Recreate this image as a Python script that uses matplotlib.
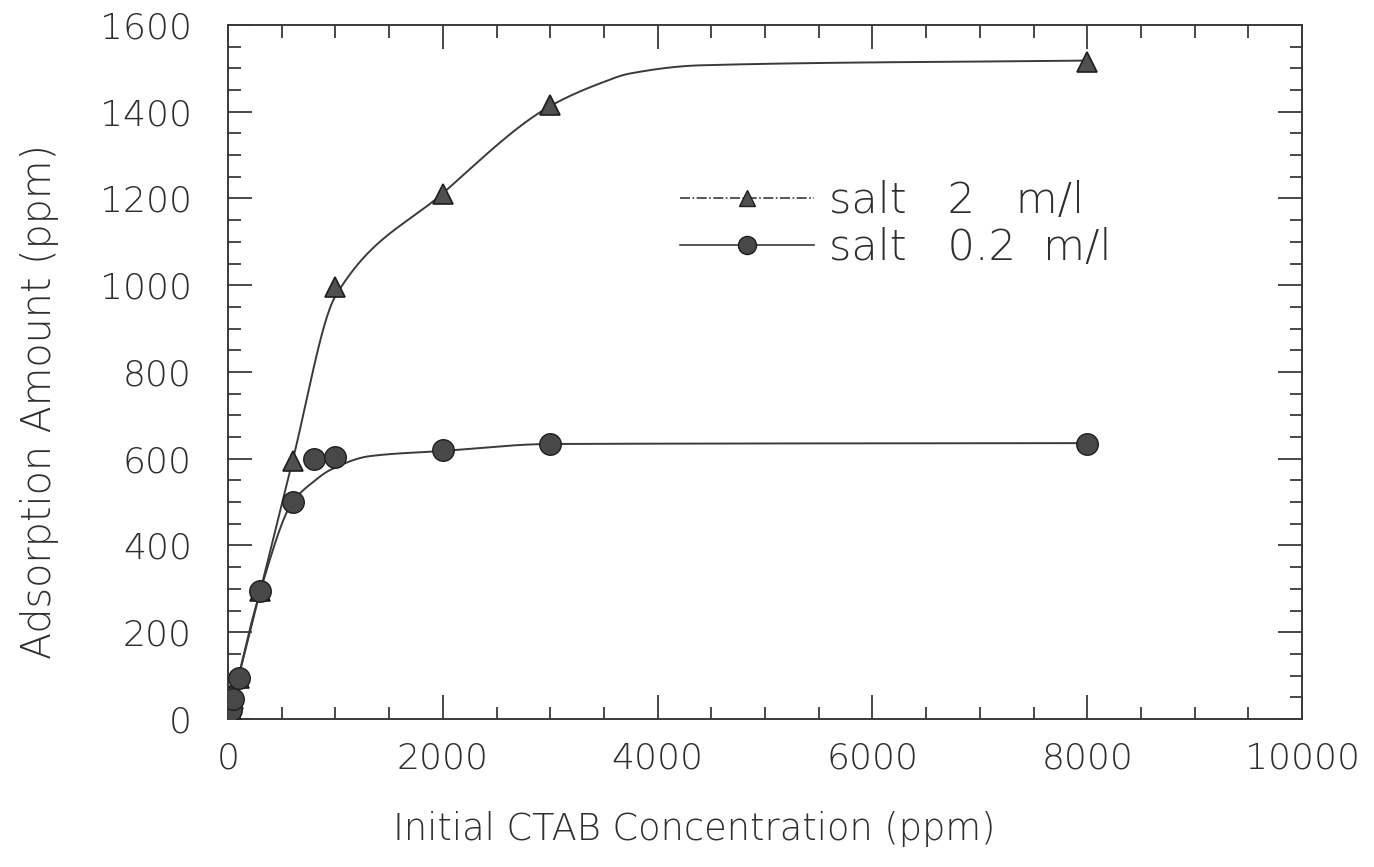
import numpy as np
import matplotlib
matplotlib.use("Agg")
import matplotlib.pyplot as plt
from matplotlib.ticker import MultipleLocator
from matplotlib.lines import Line2D

# Measured adsorption data
conc_salt2 = [10, 25, 50, 100, 300, 600, 1000, 2000, 3000, 8000]
ads_salt2 = [8, 20, 45, 95, 295, 595, 995, 1210, 1415, 1515]

conc_salt02 = [10, 25, 50, 100, 300, 600, 800, 1000, 2000, 3000, 8000]
ads_salt02 = [8, 20, 45, 95, 295, 500, 600, 605, 620, 635, 635]

# Hand-fitted trend curves (knots of the smooth fit lines)
fit2_x = [0, 300, 600, 1000, 2000, 3000, 3460, 3740, 4400, 8000]
fit2_y = [0, 295, 595, 975, 1212, 1413, 1465, 1488, 1507, 1518]

fit02_x = [0, 300, 600, 800, 950, 1320, 2000, 3000, 8000]
fit02_y = [0, 295, 500, 548, 574, 606, 618, 634, 636]

x_ticks = [0, 2000, 4000, 6000, 8000, 10000]
y_ticks = [0, 200, 400, 600, 800, 1000, 1200, 1400, 1600]


def pchip(xk, yk, xs):
    """Monotone piecewise cubic Hermite interpolation (Fritsch-Carlson)."""
    xk = np.asarray(xk, float)
    yk = np.asarray(yk, float)
    h = np.diff(xk)
    d = np.diff(yk) / h
    m = np.zeros_like(xk)
    for i in range(1, len(xk) - 1):
        if d[i - 1] * d[i] > 0:
            w1 = 2 * h[i] + h[i - 1]
            w2 = h[i] + 2 * h[i - 1]
            m[i] = (w1 + w2) / (w1 / d[i - 1] + w2 / d[i])
    m[0] = d[0]
    m[-1] = d[-1]
    idx = np.clip(np.searchsorted(xk, xs) - 1, 0, len(h) - 1)
    t = (xs - xk[idx]) / h[idx]
    h00 = 2 * t**3 - 3 * t**2 + 1
    h10 = t**3 - 2 * t**2 + t
    h01 = -2 * t**3 + 3 * t**2
    h11 = t**3 - t**2
    return (h00 * yk[idx] + h10 * h[idx] * m[idx]
            + h01 * yk[idx + 1] + h11 * h[idx] * m[idx + 1])


plt.rcParams['font.family'] = ['DejaVu Sans']
plt.rcParams['font.weight'] = 200
plt.rcParams['axes.labelweight'] = 200
ink = '#3a3a3a'
txt = '#2e2e2e'
fs = 25

fig = plt.figure(figsize=(13.74, 8.67), dpi=100)
ax = fig.add_axes([0.166, 0.1707, 0.7816, 0.8005])

xs2 = np.linspace(fit2_x[0], fit2_x[-1], 1000)
xs02 = np.linspace(fit02_x[0], fit02_x[-1], 1000)
ax.plot(xs2, pchip(fit2_x, fit2_y, xs2), color=ink, lw=1.4, zorder=2)
ax.plot(xs02, pchip(fit02_x, fit02_y, xs02), color=ink, lw=1.4, zorder=2)

ax.plot(conc_salt2, ads_salt2, linestyle='none', marker='^', ms=15,
        mfc='#505050', mec='#1e1e1e', mew=1.2, zorder=3)
ax.plot(conc_salt02, ads_salt02, linestyle='none', marker='o', ms=15.5,
        mfc='#484848', mec='#1e1e1e', mew=1.0, zorder=4)

ax.set_xlim(0, 10000)
ax.set_ylim(0, 1600)
ax.set_xticks(x_ticks)
ax.set_yticks(y_ticks)
ax.xaxis.set_minor_locator(MultipleLocator(500))
ax.yaxis.set_minor_locator(MultipleLocator(50))
ax.tick_params(which='both', direction='in', top=True, right=True,
               color=ink, width=1.3)
ax.tick_params(which='major', length=17)
ax.tick_params(which='minor', length=9)
ax.tick_params(axis='x', which='major', pad=16, labelsize=fs + 1, labelcolor=txt)
ax.tick_params(axis='y', which='major', pad=26, labelsize=fs + 1, labelcolor=txt)
for sp in ax.spines.values():
    sp.set_color(ink)
    sp.set_linewidth(1.4)

ax.set_xlabel('Initial CTAB Concentration (ppm)', fontsize=26.5,
              color=txt, fontweight=200)
ax.set_ylabel('Adsorption Amount (ppm)', fontsize=28.5,
              color=txt, fontweight=200)
ax.xaxis.set_label_coords(0.434, -0.132)
ax.yaxis.set_label_coords(-0.157, 0.457)

handles = [
    Line2D([], [], color=ink, lw=1.2, linestyle=(0, (6, 1.5, 1, 1.5)),
           marker='^', ms=11, mfc='#505050', mec='#1e1e1e'),
    Line2D([], [], color=ink, lw=1.2, marker='o', ms=13,
           mfc='#484848', mec='#1e1e1e'),
]
ax.legend(handles, ['salt   2   m/l', 'salt   0.2  m/l'], loc='center left',
          bbox_to_anchor=(0.421, 0.713), frameon=False, fontsize=31,
          borderpad=0, borderaxespad=0,
          handlelength=3.1, handletextpad=0.35, labelspacing=0.15,
          labelcolor=txt)

fig.savefig('out.png', dpi=100, facecolor='white')
